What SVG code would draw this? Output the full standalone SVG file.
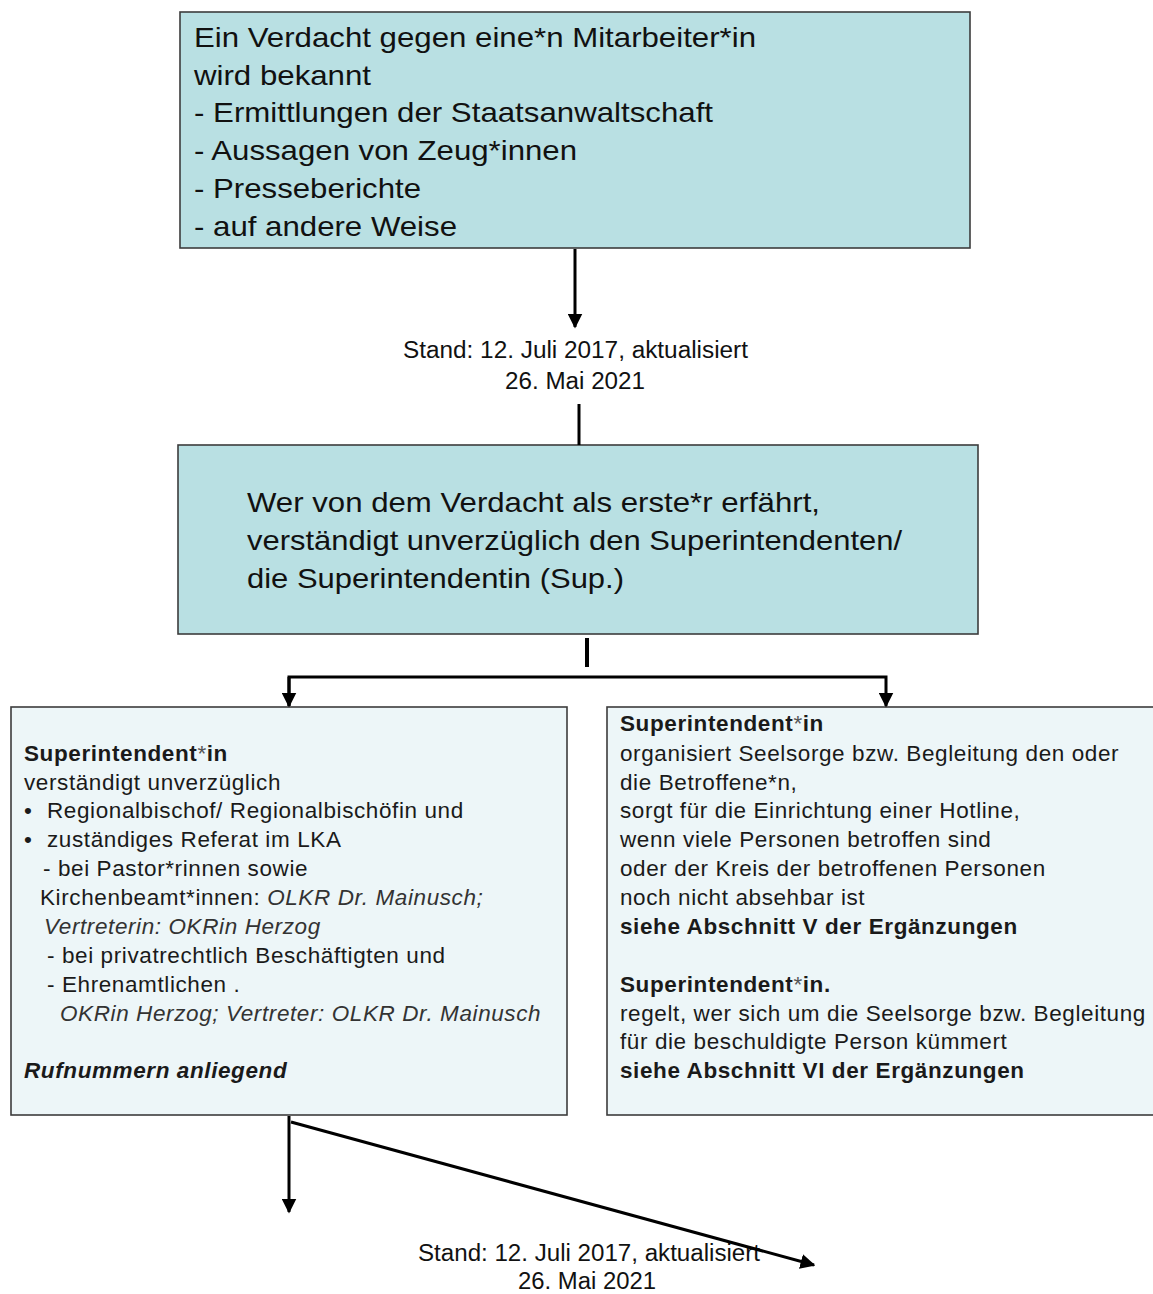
<svg xmlns="http://www.w3.org/2000/svg" width="1153" height="1294" viewBox="0 0 1153 1294">
<style>
.bx1{fill:#b9e0e3;stroke:#3c3c3c;stroke-width:1.6}
.bx2{fill:#edf6f8;stroke:#3c3c3c;stroke-width:1.6}
.nar{font-family:"Liberation Sans Narrow","Liberation Sans",Arial,sans-serif;fill:#111}
.big{font-size:28px}
.st{font-size:23px}
.t{font-family:"Liberation Sans",Arial,sans-serif;font-size:22.5px;letter-spacing:0.6px;fill:#1a1a1a}
.b{font-weight:bold}
.i{font-style:italic;fill:#333}
.ast{font-weight:normal;fill:#555}
.ln{stroke:#000;stroke-width:3;fill:none}
</style>
<defs>
<marker id="ah" viewBox="0 0 10 10" refX="9" refY="5" markerWidth="5" markerHeight="5" orient="auto" markerUnits="strokeWidth">
<path d="M0,0 L10,5 L0,10 z" fill="#000"/>
</marker>
</defs>
<rect width="1153" height="1294" fill="#fff"/>

<g id="node-verdacht">
<rect class="bx1" x="180" y="12" width="790" height="236"/>
<text class="nar big" x="194" y="47" textLength="562" lengthAdjust="spacingAndGlyphs">Ein Verdacht gegen eine*n Mitarbeiter*in</text>
<text class="nar big" x="194" y="85" textLength="177" lengthAdjust="spacingAndGlyphs">wird bekannt</text>
<text class="nar big" x="194" y="122" textLength="519" lengthAdjust="spacingAndGlyphs">- Ermittlungen der Staatsanwaltschaft</text>
<text class="nar big" x="194" y="160" textLength="383" lengthAdjust="spacingAndGlyphs">- Aussagen von Zeug*innen</text>
<text class="nar big" x="194" y="198" textLength="227" lengthAdjust="spacingAndGlyphs">- Presseberichte</text>
<text class="nar big" x="194" y="236" textLength="263" lengthAdjust="spacingAndGlyphs">- auf andere Weise</text>
</g>

<g id="label-stand-1">
<text class="nar st" x="403" y="358" textLength="345" lengthAdjust="spacingAndGlyphs">Stand: 12. Juli 2017, aktualisiert</text>
<text class="nar st" x="505" y="389" textLength="140" lengthAdjust="spacingAndGlyphs">26. Mai 2021</text>
</g>

<g id="node-erste">
<rect class="bx1" x="178" y="445" width="800" height="189"/>
<text class="nar big" x="247" y="512" textLength="573" lengthAdjust="spacingAndGlyphs">Wer von dem Verdacht als erste*r erfährt,</text>
<text class="nar big" x="247" y="550" textLength="655" lengthAdjust="spacingAndGlyphs">verständigt unverzüglich den Superintendenten/</text>
<text class="nar big" x="247" y="588" textLength="377" lengthAdjust="spacingAndGlyphs">die Superintendentin (Sup.)</text>
</g>

<g id="node-sup-left">
<rect class="bx2" x="11" y="707" width="556" height="408"/>
<text class="t" x="24" y="761"><tspan class="b">Superintendent</tspan><tspan class="ast">*</tspan><tspan class="b">in</tspan></text>
<text class="t" x="24" y="790">verständigt unverzüglich</text>
<text class="t" x="24" y="818">•</text>
<text class="t" x="47" y="818">Regionalbischof/ Regionalbischöfin und</text>
<text class="t" x="24" y="847">•</text>
<text class="t" x="47" y="847">zuständiges Referat im LKA</text>
<text class="t" x="43" y="876">- bei Pastor*rinnen sowie</text>
<text class="t" x="40" y="905">Kirchenbeamt*innen: <tspan class="i">OLKR Dr. Mainusch;</tspan></text>
<text class="t i" x="44" y="934">Vertreterin: OKRin Herzog</text>
<text class="t" x="47" y="963">- bei privatrechtlich Beschäftigten und</text>
<text class="t" x="47" y="992">- Ehrenamtlichen .</text>
<text class="t i" x="60" y="1021">OKRin Herzog; Vertreter: OLKR Dr. Mainusch</text>
<text class="t b" x="24" y="1078" font-style="italic">Rufnummern anliegend</text>
</g>

<g id="node-sup-right">
<rect class="bx2" x="607" y="707" width="560" height="408"/>
<text class="t" x="620" y="731"><tspan class="b">Superintendent</tspan><tspan class="ast">*</tspan><tspan class="b">in</tspan></text>
<text class="t" x="620" y="761">organisiert Seelsorge bzw. Begleitung den oder</text>
<text class="t" x="620" y="790">die Betroffene*n,</text>
<text class="t" x="620" y="818">sorgt für die Einrichtung einer Hotline,</text>
<text class="t" x="620" y="847">wenn viele Personen betroffen sind</text>
<text class="t" x="620" y="876">oder der Kreis der betroffenen Personen</text>
<text class="t" x="620" y="905">noch nicht absehbar ist</text>
<text class="t b" x="620" y="934">siehe Abschnitt V der Ergänzungen</text>
<text class="t" x="620" y="992"><tspan class="b">Superintendent</tspan><tspan class="ast">*</tspan><tspan class="b">in.</tspan></text>
<text class="t" x="620" y="1021">regelt, wer sich um die Seelsorge bzw. Begleitung</text>
<text class="t" x="620" y="1049">für die beschuldigte Person kümmert</text>
<text class="t b" x="620" y="1078">siehe Abschnitt VI der Ergänzungen</text>
</g>

<g id="label-stand-2">
<text class="nar st" x="418" y="1261" textLength="342" lengthAdjust="spacingAndGlyphs">Stand: 12. Juli 2017, aktualisiert</text>
<text class="nar st" x="518" y="1289" textLength="138" lengthAdjust="spacingAndGlyphs">26. Mai 2021</text>
</g>

<g id="connectors">
<line class="ln" x1="575" y1="249" x2="575" y2="327" marker-end="url(#ah)"/>
<line class="ln" x1="579" y1="404" x2="579" y2="445"/>
<line stroke="#000" stroke-width="4" x1="587" y1="638" x2="587" y2="667"/>
<polyline class="ln" points="289,706 289,677 886,677 886,706" marker-end="url(#ah)"/>
<line class="ln" x1="289" y1="677" x2="289" y2="706" marker-end="url(#ah)"/>
<line class="ln" x1="289" y1="1116" x2="289" y2="1212" marker-end="url(#ah)"/>
<line class="ln" x1="291" y1="1122" x2="814" y2="1265" marker-end="url(#ah)"/>
</g>
</svg>
